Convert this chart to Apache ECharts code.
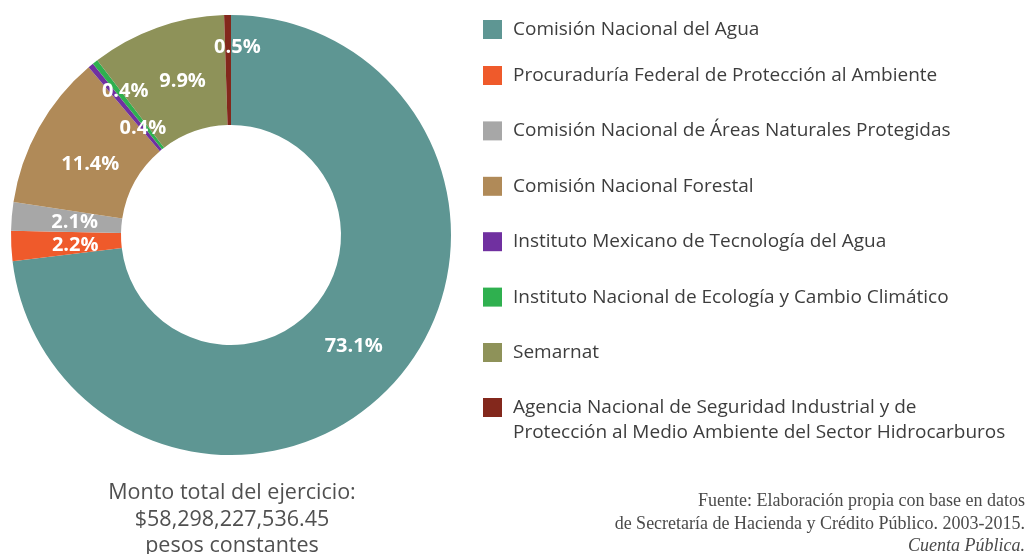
<!DOCTYPE html>
<html>
<head>
<meta charset="utf-8">
<script src="https://cdn.jsdelivr.net/npm/echarts@6/dist/echarts.min.js"></script>
<style>
  html, body { margin: 0; padding: 0; background: #fff; }
  #main { width: 1027px; height: 554px; }
</style>
</head>
<body>
<div id="main"></div>
<script>
// dependencias y su participación en el gasto (%)
var names = [
    'Comisión Nacional del Agua',
    'Procuraduría Federal de Protección al Ambiente',
    'Comisión Nacional de Áreas Naturales Protegidas',
    'Comisión Nacional Forestal',
    'Instituto Mexicano de Tecnología del Agua',
    'Instituto Nacional de Ecología y Cambio Climático',
    'Semarnat',
    'Agencia Nacional de Seguridad Industrial y de\nProtección al Medio Ambiente del Sector Hidrocarburos'
];
var shares = [73.1, 2.2, 2.1, 11.4, 0.4, 0.4, 9.9, 0.5];
var colors = ['#5e9693', '#ef5a2b', '#a7a7a7', '#b08a58', '#7030a0', '#2fb04f', '#8e9259', '#83281c'];

var totalText = ['Monto total del ejercicio:', '$58,298,227,536.45', 'pesos constantes'];
var sourceText = ['Fuente: Elaboración propia con base en datos',
    'de Secretaría de Hacienda y Crédito Público. 2003-2015.',
    'Cuenta Pública.'];

// desplazamiento de etiquetas (las rebanadas chicas se enciman)
var labelShift = {0: [-3, 0], 1: [12, 2], 2: [11, 2], 3: [6, 11], 4: [19, 23], 5: [-2, -12], 6: [8, 5], 7: [9, -20]};

var chart = echarts.init(document.getElementById('main'));

var pieData = names.map(function (n, i) {
    return {name: n, value: shares[i], itemStyle: {color: colors[i]}};
});

var legendText = {color: '#3d3d3d', fontSize: 19, fontFamily: 'Open Sans', padding: [0, 0, 0, 6], lineHeight: 19};
var lastName = names[names.length - 1];

function makeLegend(data, top, extra) {
    var l = {
        orient: 'vertical',
        left: 483,
        top: top,
        padding: 0,
        itemWidth: 19,
        itemHeight: 19,
        itemGap: 36.4,
        icon: 'rect',
        selectedMode: false,
        data: data,
        textStyle: legendText
    };
    return Object.assign(l, extra || {});
}

var option = {
    animation: false,
    legend: [
        makeLegend([names[0]], 20),
        makeLegend(names.slice(1, 7), 66),
        // renglón vacío arriba para que la primera línea quede junto al cuadro
        makeLegend([lastName], 370, {
            formatter: function (n) { return '\n' + n; },
            textStyle: Object.assign({}, legendText, {lineHeight: 25})
        })
    ],
    title: [{
        text: totalText.join('\n'),
        left: 232,
        top: 480,
        textAlign: 'center',
        padding: 0,
        textStyle: {color: '#505050', fontSize: 21.5, fontWeight: 'normal', fontFamily: 'Open Sans', lineHeight: 26.5}
    }, {
        text: sourceText[0] + '\n' + sourceText[1] + '\n{it|' + sourceText[2] + '}',
        left: 1025,
        top: 490.5,
        textAlign: 'right',
        padding: 0,
        textStyle: {
            color: '#4a4a4a', fontSize: 18, fontWeight: 'normal', fontFamily: 'Liberation Serif', lineHeight: 22.5,
            rich: {it: {fontStyle: 'italic', fontSize: 18, fontFamily: 'Liberation Serif', color: '#4a4a4a', lineHeight: 22.5}}
        }
    }],
    series: [{
        type: 'pie',
        center: [231, 235],
        radius: [110, 220],
        startAngle: 90,
        clockwise: true,
        avoidLabelOverlap: false,
        itemStyle: {borderWidth: 0},
        label: {
            show: true,
            position: 'inside',
            formatter: function (p) { return p.value.toFixed(1) + '%'; },
            color: '#fff',
            fontSize: 20,
            fontWeight: 'bold',
            fontFamily: 'Open Sans'
        },
        labelLine: {show: false},
        labelLayout: function (p) {
            var s = labelShift[p.dataIndex];
            return s ? {dx: s[0], dy: s[1]} : {};
        },
        emphasis: {disabled: true},
        data: pieData
    }]
};

chart.setOption(option);
</script>
</body>
</html>
